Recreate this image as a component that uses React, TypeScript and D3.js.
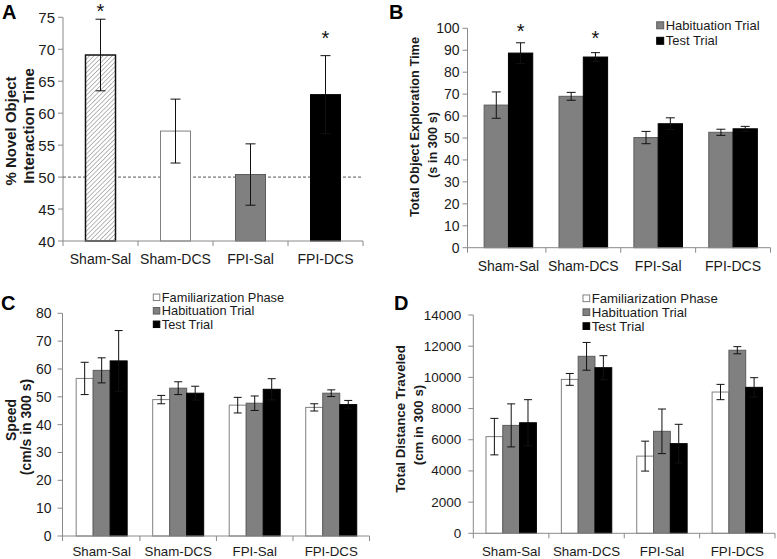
import React from 'react';
import * as d3 from 'd3';

// ---------- DATA ----------
const categories = ['Sham-Sal', 'Sham-DCS', 'FPI-Sal', 'FPI-DCS'];

// Panel A: % novel object interaction time
const novelPct = [69.1, 57.2, 50.4, 62.9];
const novelPctErr = [5.6, 5.0, 4.8, 6.1];
const novelTicks = [40, 45, 50, 55, 60, 65, 70, 75];
const novelStars = [76.4, null, null, 72.3];

// Panel B: total object exploration time
const habExplore = [65.0, 69.0, 50.2, 52.6];
const habExploreErr = [6.0, 1.8, 2.8, 1.4];
const testExplore = [88.7, 86.9, 56.5, 54.2];
const testExploreErr = [4.7, 2.0, 2.7, 1.1];
const exploreTicks = [0, 10, 20, 30, 40, 50, 60, 70, 80, 90, 100];
const exploreStars = [100.1, 96.9, null, null];

// Panel C: speed
const famSpeed = [56.6, 49.0, 47.0, 46.2];
const famSpeedErr = [5.8, 1.5, 2.8, 1.3];
const habSpeed = [59.5, 53.1, 47.7, 51.3];
const habSpeedErr = [4.5, 2.3, 2.6, 1.2];
const testSpeed = [62.9, 51.3, 52.7, 47.2];
const testSpeedErr = [10.9, 2.5, 3.8, 1.5];
const speedTicks = [0, 10, 20, 30, 40, 50, 60, 70, 80];

// Panel D: total distance traveled
const famDist = [6200, 9870, 4950, 9060];
const famDistErr = [1170, 380, 960, 490];
const habDist = [6920, 11350, 6540, 11740];
const habDistErr = [1380, 890, 1430, 230];
const testDist = [7090, 10620, 5750, 9360];
const testDistErr = [1480, 770, 1240, 620];
const distTicks = [0, 2000, 4000, 6000, 8000, 10000, 12000, 14000];

const legendFam = 'Familiarization Phase';
const legendHab = 'Habituation Trial';
const legendTest = 'Test Trial';

// ---------- STYLE ----------
const FONT = "'Liberation Sans', Arial, Helvetica, sans-serif";
const AXIS = '#8a8a8a';
const TXT = '#1a1a1a';
const WHITE = { fill: '#ffffff', stroke: '#808080' };
const GRAY = { fill: '#808080', stroke: '#5c5c5c' };
const BLACK = { fill: '#000000', stroke: '#000000' };

type Series = { name: string; values: number[]; errors: number[]; fill: string; stroke: string; strokeWidth?: number; perBar?: { fill: string; stroke: string; strokeWidth?: number }[] };

type Cfg = {
  letter: string; letterX: number; letterY: number;
  axisX: number; bandStart: number; bandEnd: number; yTop: number; yBottom: number;
  domain: [number, number]; ticks: number[]; tickGap: number; tickFont: number;
  catFont: number; catY: number; barWidth: number; capW: number;
  series: Series[];
  titles: { text: string; x: number; y: number }[]; titleFont: number;
  legend?: { x: number; y0: number; dy: number; size: number; font: number; items: { label: string; fill: string; stroke: string }[] };
  stars?: (number | null)[];
  refLine?: number;
};

function Panel({ c }: { c: Cfg }) {
  const y = d3.scaleLinear().domain(c.domain).range([c.yBottom, c.yTop]);
  const x0 = d3.scaleBand<string>().domain(categories).range([c.bandStart, c.bandEnd]).paddingInner(0).paddingOuter(0);
  const groupW = c.barWidth * c.series.length;
  const x1 = d3.scaleBand<string>().domain(c.series.map(s => s.name)).range([0, groupW]);
  const bw = x0.bandwidth();
  const base = y(c.domain[0]);
  return (
    <g>
      <text x={c.letterX} y={c.letterY} fontSize={20} fontWeight="bold" fontFamily={FONT} fill="#000">{c.letter}</text>
      {c.titles.map((t, i) => (
        <text key={i} transform={`translate(${t.x},${t.y}) rotate(-90)`} textAnchor="middle" dominantBaseline="central"
          fontSize={c.titleFont} fontWeight="bold" fontFamily={FONT} fill={TXT}>{t.text}</text>
      ))}
      {/* y axis */}
      <line x1={c.axisX} x2={c.axisX} y1={c.yTop} y2={c.yBottom} stroke={AXIS} strokeWidth={1} />
      {c.ticks.map(t => (
        <g key={t}>
          <line x1={c.axisX - 5} x2={c.axisX} y1={y(t)} y2={y(t)} stroke={AXIS} />
          <text x={c.axisX - c.tickGap} y={y(t)} textAnchor="end" dominantBaseline="central" fontSize={c.tickFont} fontFamily={FONT} fill={TXT}>{t}</text>
        </g>
      ))}
      {/* reference line */}
      {c.refLine !== undefined && (
        <line x1={c.axisX} x2={c.bandEnd} y1={y(c.refLine)} y2={y(c.refLine)} stroke="#555" strokeDasharray="3,2" strokeWidth={1} />
      )}
      {/* bars */}
      {c.series.map(s => (
        <g key={s.name}>
          {categories.map((cat, i) => {
            const bx = (x0(cat) as number) + (bw - groupW) / 2 + (x1(s.name) as number);
            const st = s.perBar ? s.perBar[i] : s;
            return (
              <rect key={cat} x={bx} y={y(s.values[i])} width={c.barWidth} height={base - y(s.values[i])}
                fill={st.fill} stroke={st.stroke} strokeWidth={st.strokeWidth ?? 1} />
            );
          })}
        </g>
      ))}
      {/* error bars */}
      {c.series.map(s => (
        <g key={s.name + 'e'}>
          {categories.map((cat, i) => {
            const cx = (x0(cat) as number) + (bw - groupW) / 2 + (x1(s.name) as number) + c.barWidth / 2;
            const hi = y(s.values[i] + s.errors[i]);
            const lo = y(Math.max(c.domain[0], s.values[i] - s.errors[i]));
            return (
              <g key={cat} stroke="#111" strokeWidth={1}>
                <line x1={cx} x2={cx} y1={hi} y2={lo} />
                <line x1={cx - c.capW / 2} x2={cx + c.capW / 2} y1={hi} y2={hi} />
                <line x1={cx - c.capW / 2} x2={cx + c.capW / 2} y1={lo} y2={lo} />
              </g>
            );
          })}
        </g>
      ))}
      {/* x axis */}
      <line x1={c.axisX} x2={c.bandEnd} y1={c.yBottom} y2={c.yBottom} stroke={AXIS} />
      {categories.map((cat, i) => (
        <g key={cat}>
          <line x1={(x0(cat) as number) + bw} x2={(x0(cat) as number) + bw} y1={c.yBottom} y2={c.yBottom + 5} stroke={AXIS} />
          {i === 0 && <line x1={c.axisX} x2={c.axisX} y1={c.yBottom} y2={c.yBottom + 5} stroke={AXIS} />}
          <text x={(x0(cat) as number) + bw / 2} y={c.catY} textAnchor="middle" fontSize={c.catFont} fontFamily={FONT} fill={TXT}>{cat}</text>
        </g>
      ))}
      {/* significance stars */}
      {c.stars && c.stars.map((v, i) => {
        if (v === null) return null;
        const groupCenter = (x0(categories[i]) as number) + bw / 2;
        const sx = c.series.length === 2 ? groupCenter + c.barWidth / 2 : groupCenter;
        return <text key={i} x={sx} y={y(v)} textAnchor="middle" dominantBaseline="central" dy={3} fontSize={20} fontFamily={FONT} fill="#111">*</text>;
      })}
      {/* legend */}
      {c.legend && c.legend.items.map((it, i) => (
        <g key={it.label}>
          <rect x={c.legend!.x} y={c.legend!.y0 + i * c.legend!.dy - c.legend!.size / 2} width={c.legend!.size} height={c.legend!.size}
            fill={it.fill} stroke={it.stroke} />
          <text x={c.legend!.x + c.legend!.size + 2} y={c.legend!.y0 + i * c.legend!.dy} dominantBaseline="central"
            fontSize={c.legend!.font} fontFamily={FONT} fill={TXT}>{it.label}</text>
        </g>
      ))}
    </g>
  );
}

const panelA: Cfg = {
  letter: 'A', letterX: 2, letterY: 19,
  axisX: 63, bandStart: 63, bandEnd: 363, yTop: 17.3, yBottom: 241,
  domain: [40, 75], ticks: novelTicks, tickGap: 8, tickFont: 15,
  catFont: 14, catY: 264, barWidth: 30, capW: 10,
  series: [{
    name: 'pct', values: novelPct, errors: novelPctErr, fill: '#fff', stroke: '#000',
    perBar: [
      { fill: 'url(#hatch)', stroke: '#111', strokeWidth: 1.5 },
      { fill: '#ffffff', stroke: '#808080' },
      { fill: '#808080', stroke: '#5c5c5c' },
      { fill: '#000000', stroke: '#000000' },
    ],
  }],
  titles: [{ text: '% Novel Object', x: 10, y: 131 }, { text: 'Interaction Time', x: 28, y: 126 }], titleFont: 15,
  stars: novelStars, refLine: 50,
};

const panelB: Cfg = {
  letter: 'B', letterX: 389, letterY: 19,
  axisX: 467.5, bandStart: 471, bandEnd: 770.5, yTop: 28.3, yBottom: 247.7,
  domain: [0, 100], ticks: exploreTicks, tickGap: 8, tickFont: 14,
  catFont: 14, catY: 270.5, barWidth: 24.3, capW: 9,
  series: [
    { name: 'hab', values: habExplore, errors: habExploreErr, ...GRAY },
    { name: 'test', values: testExplore, errors: testExploreErr, ...BLACK },
  ],
  titles: [{ text: 'Total Object Exploration Time', x: 414, y: 127 }, { text: '(s in 300 s)', x: 432, y: 145 }], titleFont: 12.8,
  legend: { x: 656.7, y0: 25.3, dy: 15.5, size: 7, font: 13, items: [
    { label: legendHab, ...GRAY }, { label: legendTest, ...BLACK }] },
  stars: exploreStars,
};

const panelC: Cfg = {
  letter: 'C', letterX: 1, letterY: 310,
  axisX: 62.5, bandStart: 63.4, bandEnd: 369.5, yTop: 313.3, yBottom: 536,
  domain: [0, 80], ticks: speedTicks, tickGap: 11, tickFont: 14,
  catFont: 13.3, catY: 556, barWidth: 17, capW: 8,
  series: [
    { name: 'fam', values: famSpeed, errors: famSpeedErr, ...WHITE },
    { name: 'hab', values: habSpeed, errors: habSpeedErr, ...GRAY },
    { name: 'test', values: testSpeed, errors: testSpeedErr, ...BLACK },
  ],
  titles: [{ text: 'Speed', x: 11, y: 420 }, { text: '(cm/s in 300 s)', x: 26, y: 427 }], titleFont: 14,
  legend: { x: 153.3, y0: 297.3, dy: 13.5, size: 6.5, font: 12.8, items: [
    { label: legendFam, ...WHITE }, { label: legendHab, ...GRAY }, { label: legendTest, ...BLACK }] },
};

const panelD: Cfg = {
  letter: 'D', letterX: 394, letterY: 310,
  axisX: 473.3, bandStart: 473.5, bandEnd: 775, yTop: 315, yBottom: 533.3,
  domain: [0, 14000], ticks: distTicks, tickGap: 12, tickFont: 13.5,
  catFont: 13.3, catY: 555.5, barWidth: 16.8, capW: 8,
  series: [
    { name: 'fam', values: famDist, errors: famDistErr, ...WHITE },
    { name: 'hab', values: habDist, errors: habDistErr, ...GRAY },
    { name: 'test', values: testDist, errors: testDistErr, ...BLACK },
  ],
  titles: [{ text: 'Total Distance Traveled', x: 400, y: 419 }, { text: '(cm in 300 s)', x: 418, y: 425 }], titleFont: 13.3,
  legend: { x: 583, y0: 298.3, dy: 13.9, size: 6.7, font: 13.2, items: [
    { label: legendFam, ...WHITE }, { label: legendHab, ...GRAY }, { label: legendTest, ...BLACK }] },
};

export default function App() {
  return (
    <svg width={777} height={559} viewBox="0 0 777 559" style={{ position: 'absolute', left: 0, top: 0, background: '#fff' }}>
      <defs>
        <pattern id="hatch" width={3.2} height={3.2} patternUnits="userSpaceOnUse" patternTransform="rotate(45)">
          <rect width={3.2} height={3.2} fill="#ffffff" />
          <line x1={0} y1={0} x2={0} y2={3.2} stroke="#8c8c8c" strokeWidth={1.2} />
        </pattern>
      </defs>
      <rect width={777} height={559} fill="#fff" />
      <Panel c={panelA} />
      <Panel c={panelB} />
      <Panel c={panelC} />
      <Panel c={panelD} />
    </svg>
  );
}
